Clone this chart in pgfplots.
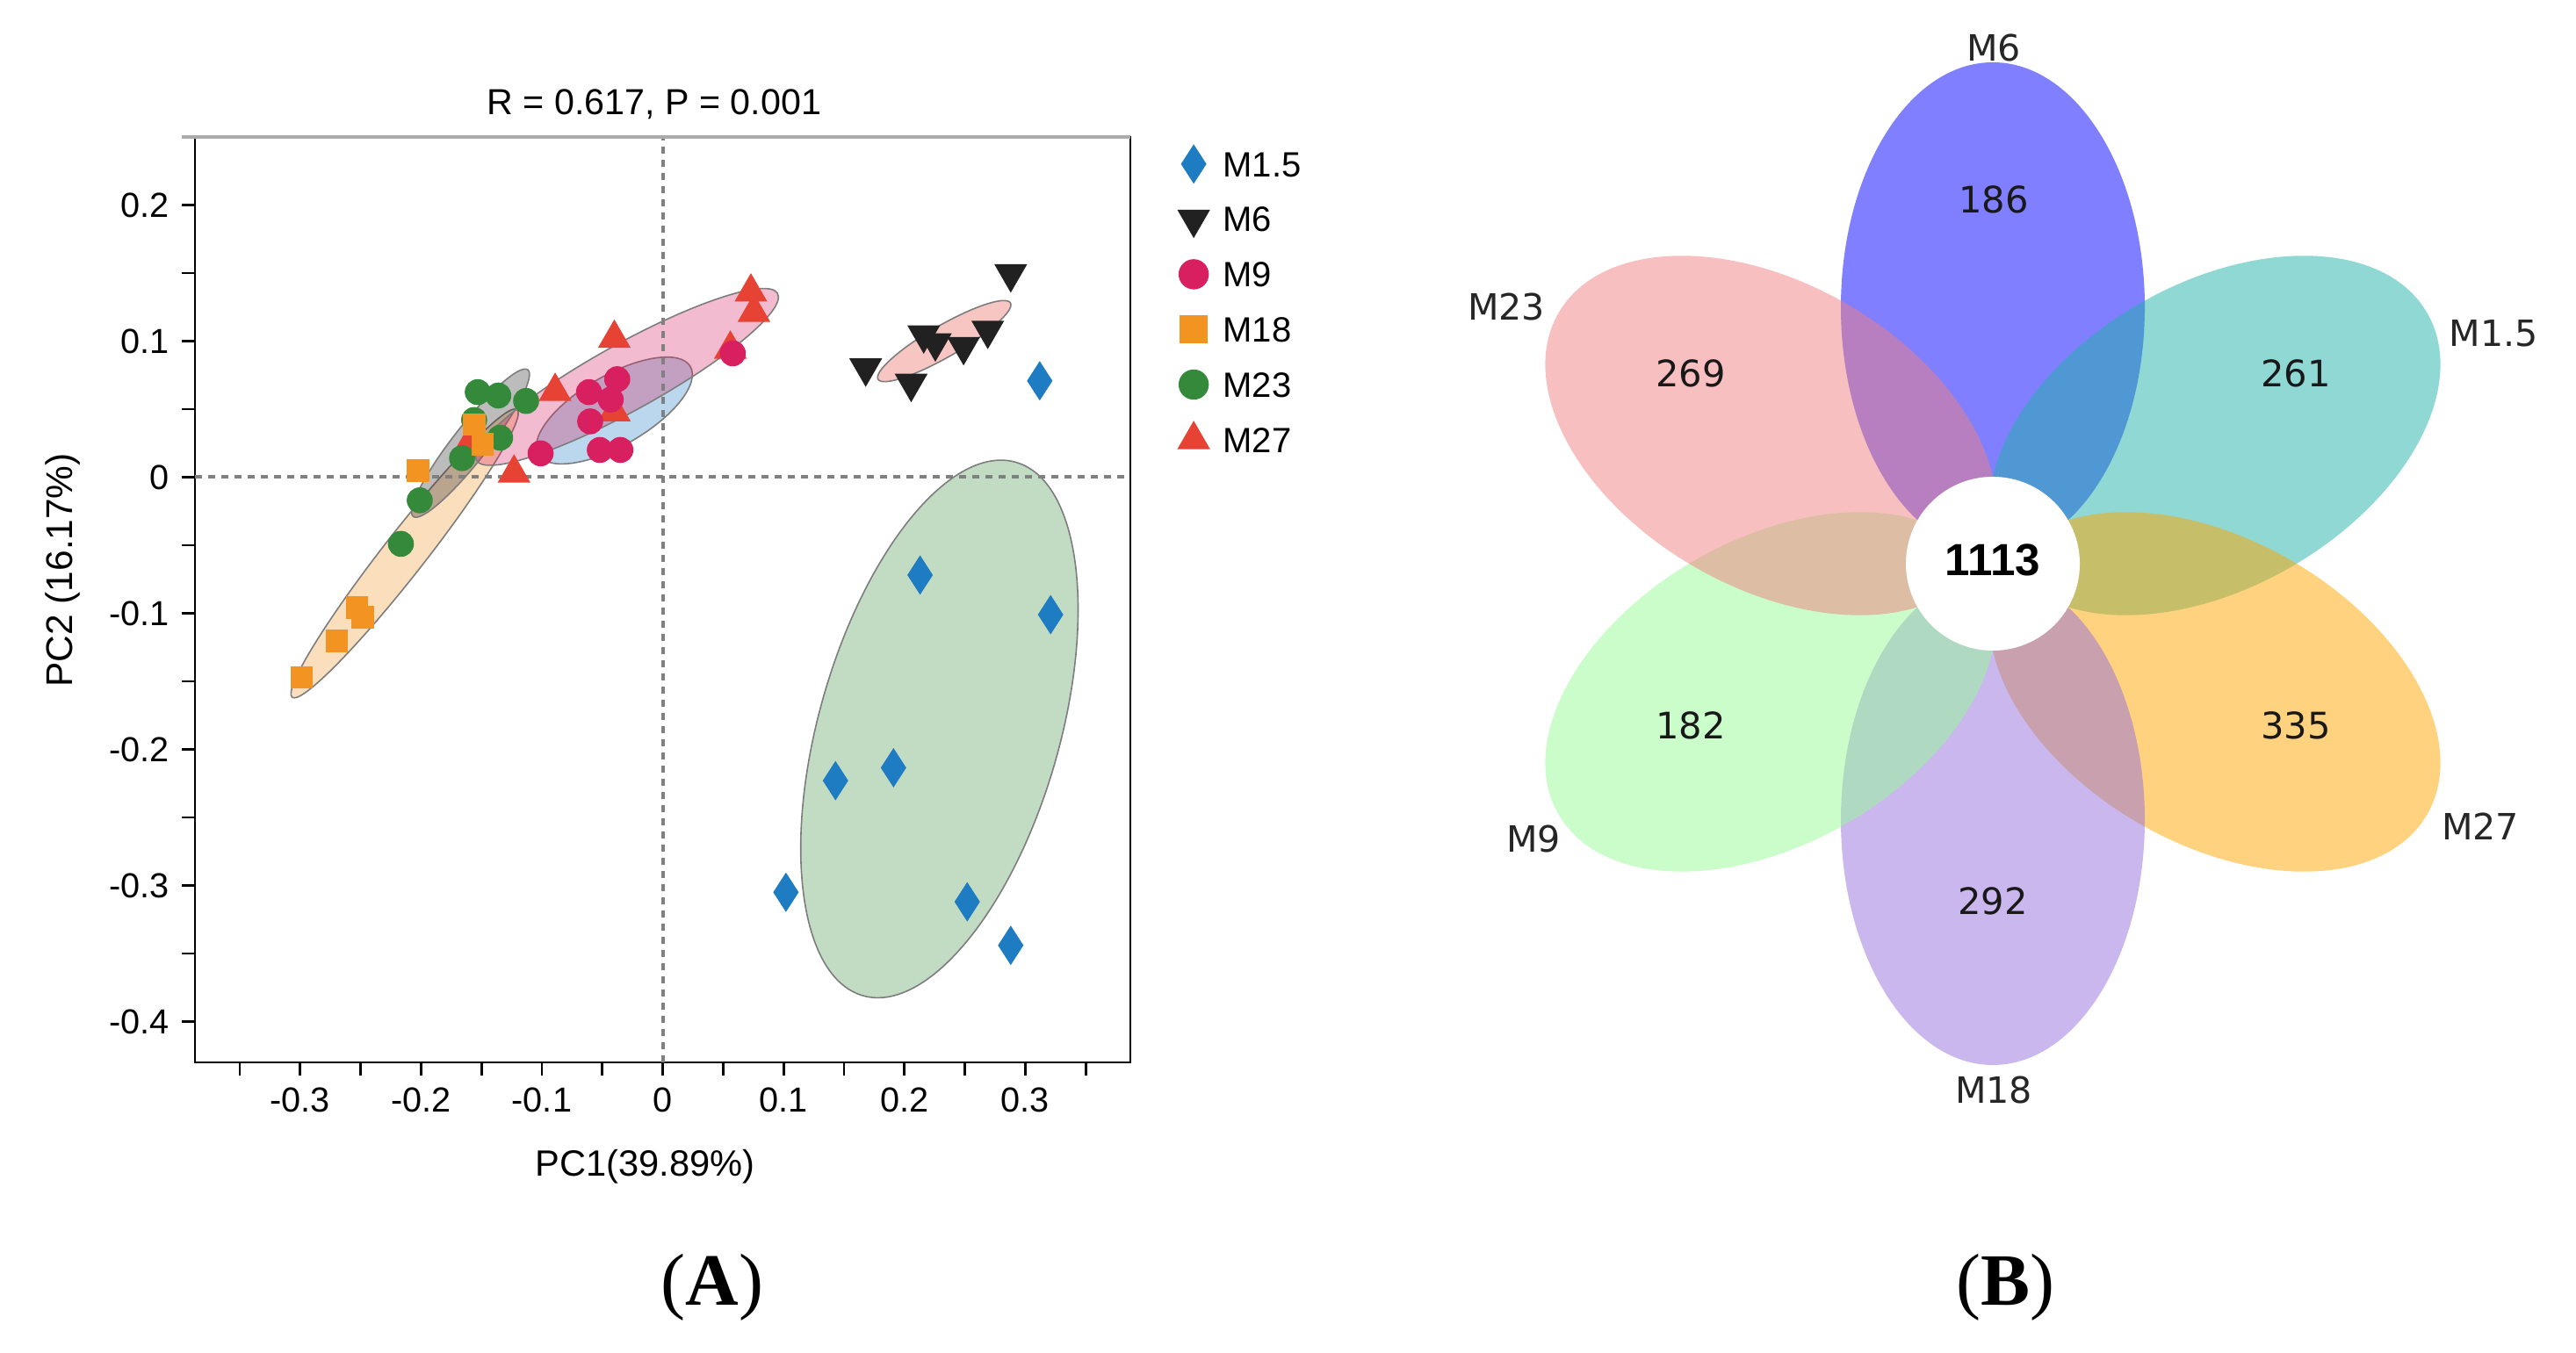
\documentclass[border=0pt]{standalone}
\usepackage{fontspec}
\setmainfont{Liberation Serif}
\newfontfamily\arialfont{Liberation Sans}
\newfontfamily\dejavufont{DejaVu Sans}
\usepackage{pgfplots}
\pgfplotsset{compat=1.18}

% group colours (points)
\definecolor{cMa}{RGB}{30,124,194}   % M1.5
\definecolor{cMb}{RGB}{33,33,33}     % M6
\definecolor{cMc}{RGB}{216,31,95}    % M9
\definecolor{cMd}{RGB}{243,147,33}   % M18
\definecolor{cMe}{RGB}{52,138,58}    % M23
\definecolor{cMf}{RGB}{230,67,53}    % M27
\definecolor{ellline}{RGB}{125,125,125}
\definecolor{zeroline}{RGB}{128,128,128}
% petal colours
\definecolor{vM6}{RGB}{0,0,255}
\definecolor{vM15}{RGB}{32,178,170}
\definecolor{vM27}{RGB}{255,165,0}
\definecolor{vM18}{RGB}{147,112,219}
\definecolor{vM9}{RGB}{152,251,152}
\definecolor{vM23}{RGB}{240,128,128}

% confidence ellipse: colour, cx, cy, angle, a, b
\newcommand{\confell}[6]{%
  \filldraw[fill=#1, fill opacity=0.3, draw=ellline, line width=0.4pt,
    rotate around={#4:(axis cs:#2,#3)}] (axis cs:#2,#3) ellipse [x radius=#5, y radius=#6];}
% venn petal: colour, cx, cy, angle
\newcommand{\petal}[4]{%
  \fill[#1, fill opacity=0.5, rotate around={#4:(axis cs:#2,#3)}]
    (axis cs:#2,#3) ellipse [x radius=69.75pt, y radius=43.25pt];}

\begin{document}
\begin{tikzpicture}
\path[use as bounding box] (0,0) rectangle (733.25pt,385.25pt);

% ---------------- (A) PCoA ----------------
\begin{axis}[
  at={(55.5pt,82.75pt)}, anchor=south west,
  scale only axis, width=266.25pt, height=263.5pt,
  xmin=-0.387, xmax=0.387, ymin=-0.43, ymax=0.25,
  xtick={-0.3,-0.2,-0.1,0,0.1,0.2,0.3},
  minor xtick={-0.35,-0.25,-0.15,-0.05,0.05,0.15,0.25,0.35},
  ytick={-0.4,-0.3,-0.2,-0.1,0,0.1,0.2},
  minor ytick={-0.35,-0.25,-0.15,-0.05,0.05,0.15},
  tick align=outside, tick pos=left,
  major tick length=3.75pt, minor tick length=3.75pt,
  every tick/.style={black, line width=0.7pt},
  axis line style={line width=0.7pt},
  /pgf/number format/assume math mode=true,
  tick label style={font=\arialfont\fontsize{9.9}{12}\selectfont},
  title={R = 0.617, P = 0.001},
  xlabel={PC1(39.89\%)},
  ylabel={PC2 (16.17\%)},
  every axis title/.style={at={(rel axis cs:0.491,1)}, yshift=6.25pt, anchor=base,
    font=\arialfont\fontsize{10.3}{12}\selectfont},
  every axis x label/.style={at={(rel axis cs:0.481,0)}, yshift=-32.5pt, anchor=base,
    font=\arialfont\fontsize{10.4}{12}\selectfont},
  every axis y label/.style={at={(rel axis cs:0,0.532)}, xshift=-37.5pt, rotate=90, anchor=center,
    font=\arialfont\fontsize{10.6}{12}\selectfont},
  legend style={draw=none, fill=none, at={(rel axis cs:1,1)}, anchor=north west,
    xshift=13.5pt, yshift=-1.9pt, inner sep=0pt, row sep=4.5pt, column sep=2pt,
    font=\arialfont\fontsize{10}{12}\selectfont,
    nodes={text height=7.2pt, text depth=0pt, inner xsep=2pt, inner ysep=2pt}},
  legend cell align=left,
  legend image code/.code={\draw[mark repeat=2,mark phase=2] plot coordinates {(-5pt,0pt)(0pt,0pt)(5pt,0pt)};},
]
% legend entries
\addlegendimage{only marks, mark=diamond*, color=cMa, mark size=5.25pt, mark options={xscale=0.86}}
\addlegendentry{M1.5}
\addlegendimage{only marks, mark=triangle*, color=cMb, mark size=5pt, mark options={rotate=180}}
\addlegendentry{M6}
\addlegendimage{only marks, mark=*, color=cMc, mark size=4.1pt}
\addlegendentry{M9}
\addlegendimage{only marks, mark=square*, color=cMd, mark size=3.75pt}
\addlegendentry{M18}
\addlegendimage{only marks, mark=*, color=cMe, mark size=4.1pt}
\addlegendentry{M23}
\addlegendimage{only marks, mark=triangle*, color=cMf, mark size=5pt}
\addlegendentry{M27}

% confidence ellipses
\confell{cMd}{-0.2135}{-0.056}{52}{52pt}{6pt}
\confell{cMb}{-0.159}{0.025}{52}{26.5pt}{5pt}
\confell{cMa}{-0.040}{0.049}{30}{25pt}{10pt}
\confell{cMc}{-0.0295}{0.0737}{29}{49pt}{9.5pt}
\confell{cMf}{0.233}{0.100}{30}{21.75pt}{4.5pt}
\confell{cMe}{0.229}{-0.185}{74}{79pt}{34.25pt}

% zero lines
\draw[zeroline, line width=1pt, dash pattern=on 2.1pt off 1.65pt] (axis cs:0,-0.43) -- (axis cs:0,0.25);
\draw[zeroline, line width=1pt, dash pattern=on 2.1pt off 1.65pt] (axis cs:-0.387,0) -- (axis cs:0.387,0);

% samples
\addplot[only marks, mark=triangle*, color=cMf, mark size=5pt, forget plot] coordinates {
  (0.073,0.136) (0.0755,0.121) (0.056,0.094) (-0.040,0.102)
  (-0.089,0.063) (-0.040,0.048) (-0.123,0.003) (-0.161,0.023)};
\addplot[only marks, mark=*, color=cMe, mark size=3.5pt, forget plot] coordinates {
  (-0.153,0.0625) (-0.136,0.060) (-0.113,0.056) (-0.156,0.042)
  (-0.1345,0.029) (-0.166,0.014) (-0.201,-0.017) (-0.2166,-0.049)};
\addplot[only marks, mark=square*, color=cMd, mark size=3pt, forget plot] coordinates {
  (-0.156,0.0386) (-0.149,0.024) (-0.2023,0.005) (-0.253,-0.0957)
  (-0.248,-0.103) (-0.2696,-0.1205) (-0.2986,-0.147)};
\addplot[only marks, mark=*, color=cMc, mark size=3.5pt, forget plot] coordinates {
  (0.058,0.091) (-0.0376,0.072) (-0.061,0.0625) (-0.043,0.057)
  (-0.060,0.041) (-0.101,0.0175) (-0.052,0.020) (-0.035,0.020)};
\addplot[only marks, mark=triangle*, color=cMb, mark size=5pt, mark options={rotate=180}, forget plot] coordinates {
  (0.288,0.1495) (0.168,0.0803) (0.2056,0.069) (0.216,0.1046)
  (0.2256,0.0987) (0.249,0.096) (0.269,0.108)};
\addplot[only marks, mark=diamond*, color=cMa, mark size=5.25pt, mark options={xscale=0.86}, forget plot] coordinates {
  (0.312,0.0708) (0.213,-0.0719) (0.321,-0.101) (0.143,-0.223)
  (0.191,-0.2135) (0.102,-0.305) (0.252,-0.312) (0.288,-0.344)};
\end{axis}
% light top border of panel A
\draw[color=black!33, line width=1.2pt] (51.75pt,346.25pt) -- (321.75pt,346.25pt);

% ---------------- (B) flower diagram ----------------
\begin{axis}[
  at={(412.5pt,60.25pt)}, anchor=south west,
  scale only axis, width=320.75pt, height=325pt,
  xmin=-619, xmax=664, ymin=-658, ymax=642,
  hide axis, clip=false,
]
\petal{vM6}{0}{292}{90}
\petal{vM15}{252.9}{146}{30}
\petal{vM27}{252.9}{-146}{-30}
\petal{vM18}{0}{-292}{-90}
\petal{vM9}{-252.9}{-146}{-150}
\petal{vM23}{-252.9}{146}{150}
\fill[white] (axis cs:0,0) circle [radius=24.75pt];

\begin{scope}[every node/.style={font=\dejavufont\fontsize{10.3}{12}\selectfont, text=black!85, inner sep=0pt}]
\node at (axis cs:1,587) {M6};
\node at (axis cs:-554,292) {M23};
\node at (axis cs:570,262) {M1.5};
\node at (axis cs:-523,-314) {M9};
\node at (axis cs:555,-299) {M27};
\node at (axis cs:1,-600) {M18};
\end{scope}
\begin{scope}[every node/.style={font=\dejavufont\fontsize{10.4}{12}\selectfont, text=black!90, inner sep=0pt}]
\node at (axis cs:1,415) {186};
\node at (axis cs:-344,217) {269};
\node at (axis cs:345,217) {261};
\node at (axis cs:-344,-184) {182};
\node at (axis cs:345,-184) {335};
\node at (axis cs:0,-384) {292};
\end{scope}
\node[font=\arialfont\bfseries\fontsize{12.8}{14}\selectfont, inner sep=0pt] at (axis cs:0,4) {1113};
\end{axis}

% panel captions
\node[anchor=base, font=\fontsize{21}{24}\selectfont, inner sep=0pt] at (202.75pt,13.5pt) {(\textbf{A})};
\node[anchor=base, font=\fontsize{21}{24}\selectfont, inner sep=0pt] at (570.75pt,13.5pt) {(\textbf{B})};
\end{tikzpicture}
\end{document}
